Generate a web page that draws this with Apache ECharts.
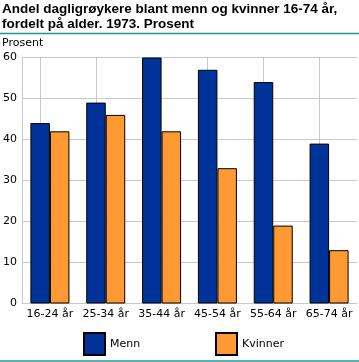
<!DOCTYPE html>
<html><head><meta charset="utf-8">
<script src="https://cdn.jsdelivr.net/npm/echarts@6/dist/echarts.min.js"></script>
<style>html,body{margin:0;padding:0;background:#fff}#c{width:359px;height:362px}</style>
</head><body><div id="c"></div>
<script>
var categories = ['16-24 år','25-34 år','35-44 år','45-54 år','55-64 år','65-74 år'];
var menn = [44, 49, 60, 57, 54, 39];
var kvinner = [42, 46, 42, 33, 19, 13];
var yTicks = {min: 0, max: 60, interval: 10};
var titleText = 'Andel dagligrøykere blant menn og kvinner 16-74 år,\nfordelt på alder. 1973. Prosent';
var unitText = 'Prosent';

var chart = echarts.init(document.getElementById('c'), null, {renderer: 'canvas'});
var font = 'DejaVu Sans';
var grey = '#c8c8c8';
chart.setOption({
  animation: false,
  title: [{
    text: titleText, left: 2, top: 2, padding: 0,
    textStyle: {fontFamily: 'Liberation Sans', fontWeight: 'bold', fontSize: 13.5, lineHeight: 15, color: '#000'}
  }, {
    text: unitText, left: 2, top: 38, padding: 0,
    textStyle: {fontFamily: font, fontWeight: 'normal', fontSize: 11, color: '#000'}
  }],
  graphic: [
    {type: 'line', shape: {x1: 0, y1: 33.5, x2: 359, y2: 33.5}, style: {stroke: '#1a9898', lineWidth: 1.5}},
    {type: 'line', shape: {x1: 0, y1: 361, x2: 359, y2: 361}, style: {stroke: '#1a9898', lineWidth: 1.5}}
  ],
  legend: [{
    data: ['Menn'], left: 83, top: 332, padding: 0, icon: 'rect', itemWidth: 21, itemHeight: 22, itemGap: 8,
    textStyle: {fontFamily: font, fontSize: 11, color: '#000'}
  }, {
    data: ['Kvinner'], left: 215, top: 332, padding: 0, icon: 'rect', itemWidth: 21, itemHeight: 22, itemGap: 8,
    textStyle: {fontFamily: font, fontSize: 11, color: '#000'}
  }],
  grid: {left: 18.5, right: 2, top: 57.5, bottom: 58.5, containLabel: false},
  xAxis: {
    type: 'category', data: categories,
    axisLine: {lineStyle: {color: grey}},
    axisTick: {show: false},
    axisLabel: {fontFamily: font, fontSize: 11, color: '#000', margin: 5, interval: 0},
    splitLine: {show: false}
  },
  yAxis: {
    type: 'value', min: yTicks.min, max: yTicks.max, interval: yTicks.interval,
    axisLine: {show: true, lineStyle: {color: grey}},
    axisTick: {show: false},
    axisLabel: {fontFamily: font, fontSize: 11, color: '#000', margin: 5},
    splitLine: {lineStyle: {color: grey}}
  },
  series: [{
    name: 'Menn', type: 'bar', data: menn, barWidth: 19.5, barGap: '0%', z: 3,
    itemStyle: {color: '#003399', borderColor: '#000', borderWidth: 1},
    markLine: {
      silent: true, symbol: 'none', z: 1, animation: false,
      label: {show: false},
      lineStyle: {color: grey, type: 'solid', width: 1},
      data: categories.map(function (c) { return {xAxis: c}; })
    }
  }, {
    name: 'Kvinner', type: 'bar', data: kvinner, barWidth: 19.5, barGap: '0%', z: 3,
    itemStyle: {color: '#ff9933', borderColor: '#000', borderWidth: 1}
  }]
});
</script></body></html>
